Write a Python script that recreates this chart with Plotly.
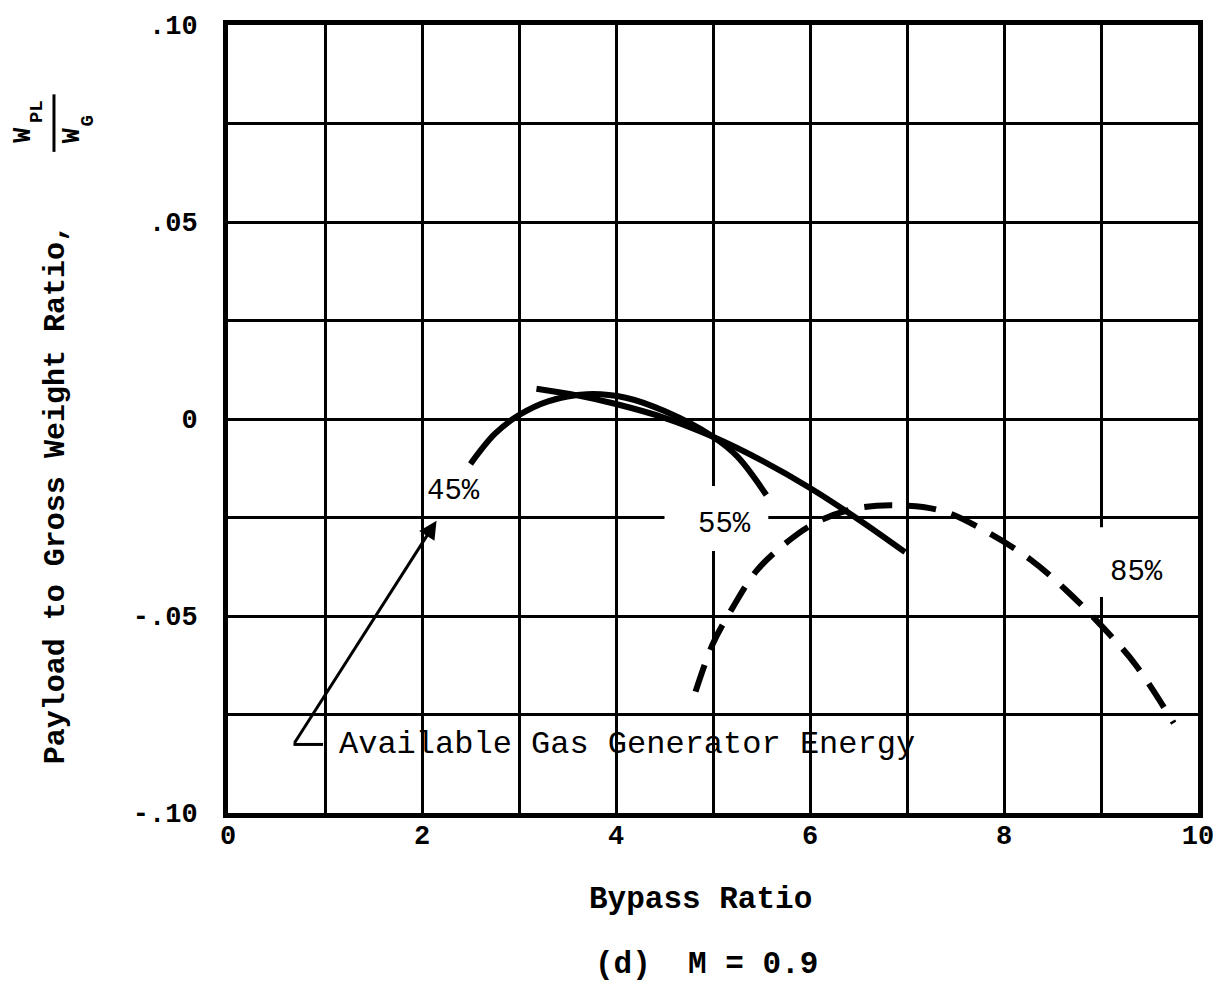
import plotly.graph_objects as go

# Payload-to-gross-weight ratio vs. bypass ratio, M = 0.9
# Each curve corresponds to a fraction of available gas generator energy.
bypass_45 = [2.50, 2.75, 3.00, 3.30, 3.70, 4.10, 4.50, 5.00, 5.25, 5.55]
ratio_45 = [-0.0114, -0.0038, 0.0010, 0.0045, 0.0063, 0.0054, 0.0020, -0.0045, -0.0095, -0.0193]

bypass_55 = [3.18, 3.60, 4.00, 4.50, 5.00, 5.50, 6.00, 6.50, 6.98]
ratio_55 = [0.0077, 0.0060, 0.0038, 0.0003, -0.0045, -0.0105, -0.0175, -0.0255, -0.0338]

bypass_85 = [4.82, 5.00, 5.20, 5.45, 5.75, 6.06, 6.45, 6.87, 7.36, 7.82, 8.28,
             8.66, 9.07, 9.36, 9.75]
ratio_85 = [-0.0692, -0.0570, -0.0480, -0.0385, -0.0315, -0.0263, -0.0228, -0.0219,
            -0.0233, -0.0286, -0.0358, -0.0439, -0.0542, -0.0625, -0.0772]

curve_labels = ["45%", "55%", "85%"]

x_grid = list(range(0, 11))
x_tick_text = ["0", "", "2", "", "4", "", "6", "", "8", "", "10"]
y_grid = [-0.1, -0.075, -0.05, -0.025, 0.0, 0.025, 0.05, 0.075, 0.1]
y_tick_text = ["-.10", "", "-.05", "", "0", "", ".05", "", ".10"]

MONO = "Liberation Mono, DejaVu Sans Mono, monospace"

fig = go.Figure()

for xs, ys, dash in [(bypass_45, ratio_45, "solid"),
                     (bypass_55, ratio_55, "solid"),
                     (bypass_85, ratio_85, "28px,16px")]:
    fig.add_trace(go.Scatter(
        x=xs, y=ys, mode="lines",
        line=dict(color="black", width=6, dash=dash, shape="spline", smoothing=1.0),
        showlegend=False, hoverinfo="skip",
    ))

# callout bracket for the energy label
fig.add_trace(go.Scatter(
    x=[0.98, 0.675], y=[-0.0826, -0.0826], mode="lines",
    line=dict(color="black", width=3), showlegend=False, hoverinfo="skip",
))

shapes = [
    # gridline breaks around the curve labels
    dict(type="rect", xref="x", yref="y", x0=4.50, x1=5.57, y0=-0.0335, y1=-0.0170,
         fillcolor="white", line=dict(width=0), layer="between"),
    dict(type="rect", xref="x", yref="y", x0=8.9, x1=9.1, y0=-0.0452, y1=-0.0275,
         fillcolor="white", line=dict(width=0), layer="between"),
    # fraction bar of the y-axis symbol
    dict(type="line", xref="paper", yref="paper", x0=-0.1794, x1=-0.1794, y0=0.839, y1=0.912,
         line=dict(color="black", width=3)),
]


def text_note(x, y, text, size, ref="x", bold=False, angle=0):
    font = dict(family=MONO, size=size, color="black")
    if bold:
        font["weight"] = "bold"
    return dict(x=x, y=y, xref=ref, yref="y" if ref == "x" else ref,
                text=text, showarrow=False, xanchor="center", yanchor="middle",
                textangle=angle, font=font)


annotations = [
    dict(x=2.15, y=-0.0258, ax=0.675, ay=-0.0826, axref="x", ayref="y", xref="x", yref="y",
         text="", showarrow=True, arrowhead=2, arrowsize=1.2, arrowwidth=3, arrowcolor="black"),
    dict(x=1.12, y=-0.0826, xref="x", yref="y", text="Available Gas Generator Energy",
         showarrow=False, xanchor="left", yanchor="middle",
         font=dict(family=MONO, size=32, color="black")),
    text_note(2.32, -0.0185, curve_labels[0], 29),
    text_note(5.12, -0.0268, curve_labels[1], 29),
    text_note(9.37, -0.0390, curve_labels[2], 29),
    text_note(0.4876, -0.1097, "Bypass Ratio", 31, ref="paper", bold=True),
    text_note(0.493, -0.192, "(d)  M = 0.9", 31, ref="paper", bold=True),
    text_note(-0.1770, 0.405, "Payload to Gross Weight Ratio,", 30, ref="paper", bold=True, angle=-90),
    # W_PL / W_G symbol, built from separate glyph runs so the subscripts stay legible
    text_note(-0.2110, 0.860, "W", 25, ref="paper", bold=True, angle=-90),
    text_note(-0.1975, 0.890, "PL", 19, ref="paper", bold=True, angle=-90),
    text_note(-0.1610, 0.860, "W", 25, ref="paper", bold=True, angle=-90),
    text_note(-0.1440, 0.878, "G", 19, ref="paper", bold=True, angle=-90),
]

fig.update_layout(
    width=1229, height=1005,
    margin=dict(l=228, r=31, t=20, b=192),
    paper_bgcolor="white", plot_bgcolor="white",
    shapes=shapes, annotations=annotations,
    xaxis=dict(
        range=[0, 10], tickvals=x_grid, ticktext=x_tick_text,
        showgrid=True, gridcolor="black", gridwidth=3, zeroline=False,
        showline=True, linecolor="black", linewidth=5, mirror=True,
        ticks="", ticklabelstandoff=-6,
        tickfont=dict(family=MONO, size=27, color="black", weight="bold"),
    ),
    yaxis=dict(
        range=[-0.1, 0.1], tickvals=y_grid, ticktext=y_tick_text,
        showgrid=True, gridcolor="black", gridwidth=3, zeroline=False,
        showline=True, linecolor="black", linewidth=5, mirror=True,
        ticks="", ticklabelstandoff=20,
        tickfont=dict(family=MONO, size=27, color="black", weight="bold"),
    ),
)

fig.write_html("out.html")
